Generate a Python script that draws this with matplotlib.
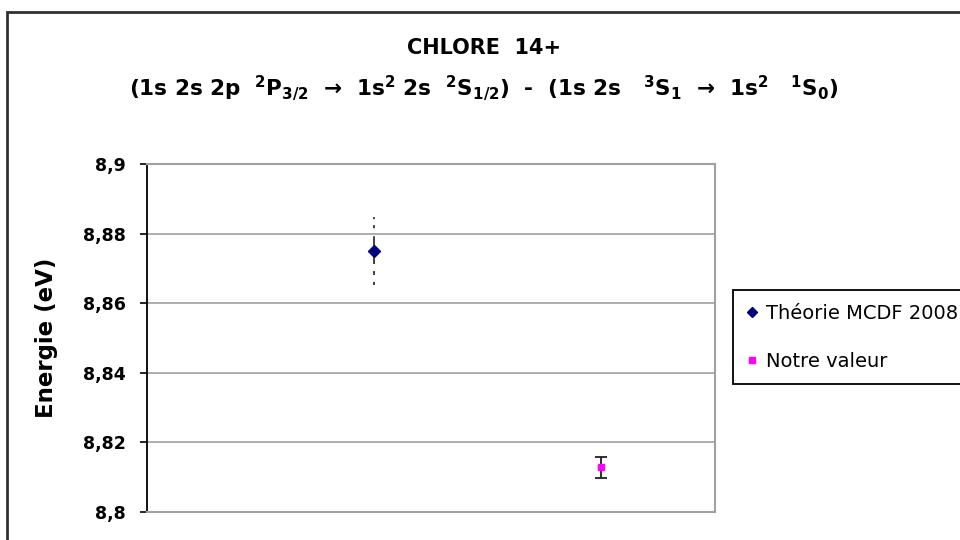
import numpy as np
import matplotlib as mpl
mpl.use('Agg')
from matplotlib import pyplot as plt
from matplotlib.patches import Rectangle

# data
series_names = ['Théorie MCDF 2008', 'Notre valeur']
x_pos = [1, 2]
energies = [8.875, 8.8128]
errors = [0.0099, 0.0030]
y_ticks = [8.80, 8.82, 8.84, 8.86, 8.88, 8.90]
y_tick_labels = ['8,8', '8,82', '8,84', '8,86', '8,88', '8,9']

plt.rcParams['font.family'] = ['DejaVu Sans']
plt.rcParams['mathtext.default'] = 'regular'
plt.rcParams['lines.scale_dashes'] = False

fig = plt.figure(figsize=(9.6, 5.4), dpi=100)
fig.patch.set_facecolor('white')

# outer chart border (right and bottom edges fall outside the picture)
fig.patches.append(Rectangle((7 / 960, -0.2), 1.2, 1.2 - 12 / 540,
                             transform=fig.transFigure, fill=False,
                             edgecolor='#303030', linewidth=2))

ax = fig.add_axes([147 / 960, 1 - 512 / 540, 568 / 960, 348 / 540])
ax.set_xlim(0, 2.5)
ax.set_ylim(8.8, 8.9)

# theory point, dashed error bar
eb = ax.errorbar(x_pos[0], energies[0], yerr=errors[0], fmt='D', color='#000080',
                 markersize=6.5, ecolor='#303030', elinewidth=1.3, capsize=0, zorder=3)
eb[2][0].set_linestyle((0, (2.2, 5, 2.9, 5, 20, 5.8, 2.2, 4.3, 1.5, 10)))
ax.errorbar(x_pos[1], energies[1], yerr=errors[1], fmt='s', color='#ff00ff',
            markersize=5, ecolor='#202020', elinewidth=1.3, capsize=4.5, capthick=1.3, zorder=3)

ax.set_yticks(y_ticks)
ax.set_yticklabels(y_tick_labels, fontsize=12.5, fontweight='bold')
ax.set_xticks([])
ax.tick_params(axis='y', direction='out', length=5, width=1.2, color='black', pad=10)
ax.yaxis.grid(True, color='#a8a8a8', linewidth=1.3)
ax.set_axisbelow(True)
for s in ['top', 'right', 'bottom']:
    ax.spines[s].set_color('#a0a0a0')
    ax.spines[s].set_linewidth(1.5)
ax.spines['left'].set_color('black')
ax.spines['left'].set_linewidth(1.3)

ax.set_ylabel('Energie (eV)', fontsize=16.5, fontweight='bold', labelpad=18)

fig.text(484 / 960, 1 - 48 / 540, 'CHLORE  14+', ha='center', va='center',
         fontsize=15, fontweight='bold')
fig.text(484 / 960, 1 - 88 / 540,
         r'(1s 2s 2p  $^2$P$_{3/2}$  →  1s$^2$ 2s  $^2$S$_{1/2}$)  -  (1s 2s   $^3$S$_1$  →  1s$^2$   $^1$S$_0$)',
         ha='center', va='center', fontsize=15.5, fontweight='bold')

handles = [
    plt.Line2D([], [], marker='D', color='#000080', linestyle='none', markersize=5.5),
    plt.Line2D([], [], marker='s', color='#ff00ff', linestyle='none', markersize=4.5),
]
leg = fig.legend(handles, series_names, loc='upper left',
                 bbox_to_anchor=(733 / 960, 1 - 290 / 540), fontsize=14,
                 frameon=True, fancybox=False, edgecolor='black', framealpha=1,
                 labelspacing=1.5, handlelength=0.6, handletextpad=0.4,
                 borderpad=0.7, borderaxespad=0)
leg.get_frame().set_linewidth(1.3)

fig.savefig('out.png', dpi=100)
